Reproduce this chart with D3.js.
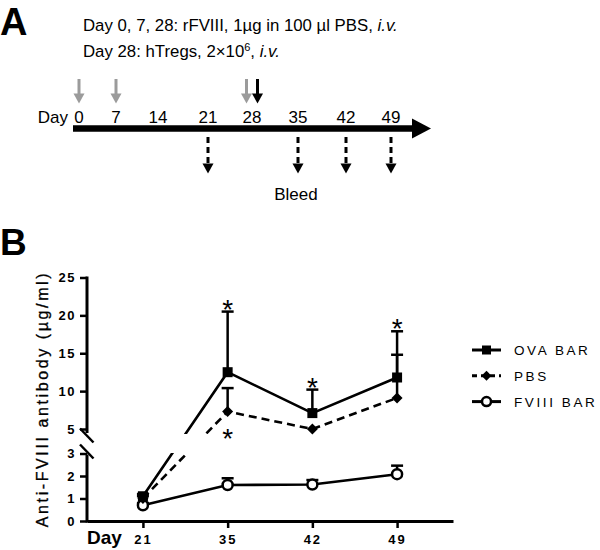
<!DOCTYPE html>
<html>
<head>
<meta charset="utf-8">
<script src="https://cdn.jsdelivr.net/npm/d3@7"></script>
<style>
  body { margin: 0; background: #fff; }
  text { font-family: "Liberation Sans", Arial, sans-serif; fill: #000; }
</style>
</head>
<body>
<svg id="fig" width="600" height="550"></svg>
<script>
// ---- panel A : schedule
var timelineDays = [0, 7, 14, 21, 28, 35, 42, 49];
var fviiiDays = [0, 7, 28];
var tregDays = [28];
var bleedDays = [21, 35, 42, 49];

// ---- panel B : anti-FVIII titres (ug/ml), mean and upper error
var days = ["21", "35", "42", "49"];
var ovaMean = [1.1, 12.5, 7.1, 11.8];
var ovaErr = [0.1, 8.0, 3.1, 6.1];
var pbsMean = [1.0, 7.3, 5.0, 9.1];
var pbsErr = [0.1, 3.1, 0, 5.7];
var fviiiMean = [0.7, 1.6, 1.62, 2.08];
var fviiiErr = [0.1, 0.3, 0.2, 0.38];
var yTicksLow = [0, 1, 2, 3];
var yTicksHigh = [5, 10, 15, 20, 25];
var legendNames = ["OVA BAR", "PBS", "FVIII BAR"];
// significance marks: which series / day, above the error cap or below the point
var starDays = ["35", "42", "49", "35"];
var starSeries = ["ova", "ova", "ova", "pbs"];
var starSide = ["above", "above", "above", "below"];

var svg = d3.select("#fig");

// =================== A ===================
svg.append("text").attr("x", 0).attr("y", 35)
    .style("font-size", "38px").style("font-weight", "bold").text("A");

var head1 = svg.append("text").attr("x", 83).attr("y", 30.5).style("font-size", "16.8px");
head1.append("tspan").text("Day 0, 7, 28: rFVIII, 1µg in 100 µl PBS, ");
head1.append("tspan").style("font-style", "italic").text("i.v.");

var head2 = svg.append("text").attr("x", 83).attr("y", 56.5).style("font-size", "16.8px");
head2.append("tspan").text("Day 28: hTregs, 2×10");
head2.append("tspan").attr("dy", -6).style("font-size", "11px").text("6");
head2.append("tspan").attr("dy", 6).text(", ");
head2.append("tspan").style("font-style", "italic").text("i.v.");

// hand placed timeline, so a piecewise scale
var tl = d3.scaleLinear()
    .domain(timelineDays)
    .range([79, 116, 158, 208, 252, 298, 346, 391]);

var lineY = 128.5;
svg.append("line")
    .attr("x1", 73).attr("x2", 416)
    .attr("y1", lineY).attr("y2", lineY)
    .attr("stroke", "#000").attr("stroke-width", 6.5);
svg.append("path")
    .attr("d", "M412," + (lineY - 10) + "L431," + lineY + "L412," + (lineY + 10) + "Z")
    .attr("fill", "#000");

svg.append("text").attr("x", 68).attr("y", 122.5).attr("text-anchor", "end")
    .style("font-size", "17px").text("Day");
svg.selectAll(".tl-lab")
    .data(timelineDays)
  .enter().append("text")
    .attr("class", "tl-lab")
    .attr("x", d => tl(d)).attr("y", 122.5)
    .attr("text-anchor", "middle")
    .style("font-size", "17px")
    .text(d => d);

function downArrow(g, x, y0, y1, color, dashed) {
  g.append("line")
    .attr("x1", x).attr("x2", x)
    .attr("y1", y0).attr("y2", y1 - 8)
    .attr("stroke", color).attr("stroke-width", 3)
    .attr("stroke-dasharray", dashed ? "6,4" : null);
  g.append("path")
    .attr("d", "M" + (x - 5.5) + "," + (y1 - 10) + "L" + x + "," + y1 + "L" + (x + 5.5) + "," + (y1 - 10) + "Z")
    .attr("fill", color);
}

var arrows = svg.append("g");
fviiiDays.forEach(function(d) {
  var off = tregDays.indexOf(d) >= 0 ? -5.5 : 0;
  downArrow(arrows, tl(d) + off, 79, 103.5, "#9b9b9b", false);
});
tregDays.forEach(function(d) {
  downArrow(arrows, tl(d) + 5.5, 79, 103.5, "#000", false);
});
bleedDays.forEach(function(d) {
  downArrow(arrows, tl(d), 137, 173.5, "#000", true);
});
svg.append("text").attr("x", tl(35) - 2).attr("y", 200)
    .attr("text-anchor", "middle").style("font-size", "17px").text("Bleed");

// =================== B ===================
svg.append("text").attr("x", 0).attr("y", 255)
    .style("font-size", "37px").style("font-weight", "bold").text("B");

var x = d3.scalePoint().domain(days).range([87, 453]).padding(0.66);
var yLow = d3.scaleLinear().domain([0, 3]).range([521, 453.5]);
var yHigh = d3.scaleLinear().domain([5, 25]).range([429, 277.5]);
function y(v) {
  if (v <= 3) return yLow(v);
  if (v >= 5) return yHigh(v);
  return yLow(3) + (v - 3) / 2 * (yHigh(5) - yLow(3));
}

var plot = svg.append("g");

// axes
var axLow = plot.append("g").attr("transform", "translate(87,0)")
    .call(d3.axisLeft(yLow).tickValues(yTicksLow).tickFormat(d3.format("d")).tickSize(7).tickPadding(4));
var axHigh = plot.append("g").attr("transform", "translate(87,0)")
    .call(d3.axisLeft(yHigh).tickValues(yTicksHigh).tickFormat(d3.format("d")).tickSize(7).tickPadding(4));
[axLow, axHigh].forEach(function(a) {
  a.select(".domain").remove();
  a.selectAll(".tick line").attr("stroke-width", 2.5);
  a.selectAll(".tick text")
    .style("font-size", "13px").style("font-weight", "bold")
    .style("letter-spacing", "1.5px").style("font-family", "Liberation Sans, Arial, sans-serif");
});
plot.append("line").attr("x1", 87).attr("x2", 87)
    .attr("y1", yHigh(25) - 1).attr("y2", yHigh(5) + 4)
    .attr("stroke", "#000").attr("stroke-width", 3);
plot.append("line").attr("x1", 87).attr("x2", 87)
    .attr("y1", yLow(3) + 1).attr("y2", yLow(0) + 1.5)
    .attr("stroke", "#000").attr("stroke-width", 3);
// axis break marks
[yHigh(5) + 6.5, yLow(3) - 2].forEach(function(cy) {
  plot.append("line")
    .attr("x1", 80).attr("x2", 93.5)
    .attr("y1", cy - 7).attr("y2", cy + 7)
    .attr("stroke", "#000").attr("stroke-width", 2.5);
});

var axX = plot.append("g").attr("transform", "translate(0," + yLow(0) + ")")
    .call(d3.axisBottom(x).tickSize(7).tickSizeOuter(0).tickPadding(7));
axX.select(".domain").attr("stroke-width", 3);
axX.selectAll(".tick line").attr("stroke-width", 2.5);
axX.selectAll(".tick text")
    .style("font-size", "13px").style("font-weight", "bold")
    .style("letter-spacing", "2px").style("font-family", "Liberation Sans, Arial, sans-serif");

plot.append("text").attr("x", 87).attr("y", 544)
    .style("font-size", "19px").style("font-weight", "bold").text("Day");

plot.append("text")
    .attr("transform", "translate(48,399) rotate(-90)")
    .attr("text-anchor", "middle")
    .style("font-size", "16px").style("letter-spacing", "2.6px")
    .style("stroke", "#000").style("stroke-width", "0.3px")
    .text("Anti-FVIII antibody (µg/ml)");

// series
var series = [
  { key: "ova", name: legendNames[0], mean: ovaMean, err: ovaErr, dash: null, marker: "square" },
  { key: "pbs", name: legendNames[1], mean: pbsMean, err: pbsErr, dash: "8,5", marker: "diamond" },
  { key: "fviii", name: legendNames[2], mean: fviiiMean, err: fviiiErr, dash: null, marker: "circle" }
];

var defs = svg.append("defs");
var cp = defs.append("clipPath").attr("id", "brk");
cp.append("rect").attr("x", 88).attr("y", 260).attr("width", 400).attr("height", 434 - 260);
cp.append("rect").attr("x", 88).attr("y", 453).attr("width", 400).attr("height", 70);

var line = d3.line().x(d => x(d.day)).y(d => y(d.v));

series.forEach(function(s) {
  s.pts = days.map((d, i) => ({ day: d, v: s.mean[i], e: s.err[i] }));
  plot.append("path")
    .datum(s.pts)
    .attr("clip-path", "url(#brk)")
    .attr("d", line)
    .attr("fill", "none")
    .attr("stroke", "#000")
    .attr("stroke-width", 2.6)
    .attr("stroke-dasharray", s.dash);
});

// error bars (upper only)
series.forEach(function(s) {
  var eb = plot.append("g").selectAll("g")
      .data(s.pts.filter(p => p.e > 0))
    .enter().append("g");
  eb.append("line")
    .attr("x1", p => x(p.day)).attr("x2", p => x(p.day))
    .attr("y1", p => y(p.v)).attr("y2", p => y(p.v + p.e))
    .attr("stroke", "#000").attr("stroke-width", 2.5);
  eb.append("line")
    .attr("x1", p => x(p.day) - 6).attr("x2", p => x(p.day) + 6)
    .attr("y1", p => y(p.v + p.e)).attr("y2", p => y(p.v + p.e))
    .attr("stroke", "#000").attr("stroke-width", 2.5);
});

function drawMarker(g, type, cx, cy, k) {
  if (type === "square") {
    g.append("rect").attr("x", cx - 5 * k).attr("y", cy - 5 * k)
      .attr("width", 10 * k).attr("height", 10 * k).attr("fill", "#000");
  } else if (type === "diamond") {
    var r = 5.5 * k;
    g.append("path")
      .attr("d", "M" + cx + "," + (cy - r) + "L" + (cx + r) + "," + cy + "L" + cx + "," + (cy + r) + "L" + (cx - r) + "," + cy + "Z")
      .attr("fill", "#000");
  } else {
    g.append("circle").attr("cx", cx).attr("cy", cy).attr("r", 5 * k)
      .attr("fill", "#fff").attr("stroke", "#000").attr("stroke-width", 2.5);
  }
}

series.slice().reverse().forEach(function(s) {
  var mg = plot.append("g");
  s.pts.forEach(function(p) { drawMarker(mg, s.marker, x(p.day), y(p.v), 1); });
});

// asterisks
starDays.forEach(function(d, i) {
  var s = series.find(q => q.key === starSeries[i]);
  var j = days.indexOf(d);
  var cy = starSide[i] === "above" ? y(s.mean[j] + s.err[j]) - 9 : y(s.mean[j]) + 20;
  plot.append("text")
    .attr("x", x(d)).attr("y", cy + 16)
    .attr("text-anchor", "middle")
    .style("font-size", "28px")
    .text("*");
});

// legend
var lg = svg.append("g").attr("transform", "translate(472,350)");
series.forEach(function(s, i) {
  var row = lg.append("g").attr("transform", "translate(0," + (i * 25.8) + ")");
  row.append("line").attr("x1", 0).attr("x2", 29).attr("y1", 0).attr("y2", 0)
    .attr("stroke", "#000").attr("stroke-width", 3)
    .attr("stroke-dasharray", s.dash ? "5,4" : null);
  drawMarker(row, s.marker, 14.5, 0, 0.9);
  row.append("text").attr("x", 42).attr("y", 5)
    .style("font-size", "13.5px").style("letter-spacing", "2.6px")
    .text(s.name);
});
</script>
</body>
</html>
